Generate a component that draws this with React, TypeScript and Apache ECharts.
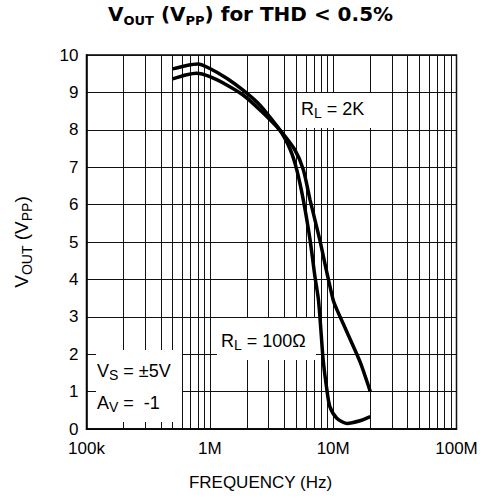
import React, { useEffect, useRef } from 'react';
import * as echarts from 'echarts';

const FONT = '"Liberation Sans", Arial, Helvetica, sans-serif';
const TITLE_FONT = '"DejaVu Sans", "Liberation Sans", Arial, sans-serif';

// Axis tick labels
const xTickLabels = ['100k', '1M', '10M', '100M'];
const yMin = 0;
const yMax = 10;

// Minor vertical grid lines (Hz)
const minorGridFreqs = [
  2e5, 3e5, 4e5, 5e5, 6e5, 7e5, 8e5, 9e5,
  2e6, 3e6, 4e6, 5e6, 6e6, 7e6, 8e6, 9e6,
  2e7, 3e7, 4e7, 5e7, 6e7, 7e7, 8e7, 9e7,
];

// R_L = 2K curve
const freq2K = [5e5, 6.5e5, 8e5, 1e6, 1.37e6, 1.86e6, 2.55e6, 3.7e6, 4.9e6, 5.73e6, 6.5e6, 7.8e6, 8.8e6, 1e7, 1.07e7, 1.29e7, 1.65e7, 2e7];
const vout2K = [9.63, 9.72, 9.76, 9.64, 9.38, 9.06, 8.66, 8.0, 7.46, 6.93, 6.12, 5.05, 4.25, 3.45, 3.2, 2.6, 1.8, 1.0];

// R_L = 100 ohm curve
const freq100 = [5e5, 6.5e5, 7.8e5, 1e6, 1.37e6, 1.86e6, 2.55e6, 3.7e6, 4.5e6, 5.07e6, 5.73e6, 6.5e6, 7.1e6, 7.6e6, 7.95e6, 8.3e6, 8.9e6, 9.4e6, 1.07e7, 1.29e7, 1.65e7, 2e7];
const vout100 = [9.36, 9.47, 9.51, 9.42, 9.2, 8.93, 8.53, 7.98, 7.46, 6.93, 6.12, 5.05, 4.1, 3.45, 2.65, 1.84, 1.04, 0.6, 0.29, 0.15, 0.22, 0.33];

const richMain = { fontSize: 18, fontFamily: FONT, fill: '#000', color: '#000', lineHeight: 22, verticalAlign: 'middle' };
const richSub = { fontSize: 14, fontFamily: FONT, fill: '#000', color: '#000', lineHeight: 10, verticalAlign: 'bottom' };
const nameMain = { fontSize: 19, fontFamily: FONT, color: '#000', lineHeight: 24, verticalAlign: 'middle' };
const nameSub = { fontSize: 14, fontFamily: FONT, color: '#000', lineHeight: 11, verticalAlign: 'bottom' };

export default function App() {
  const ref = useRef<HTMLDivElement>(null);
  useEffect(() => {
    if (!ref.current) return;
    const chart = echarts.init(ref.current, undefined, { renderer: 'svg' });
    const option = {
      animation: false,
      backgroundColor: '#fff',
      title: {
        text: '{b|V}{bs|OUT}{b| (V}{bs|PP}{b|) for THD < 0.5%}',
        left: 108,
        top: 0,
        padding: [0, 0, 0, 0],
        textStyle: {
          rich: {
            b: { fontSize: 20, fontWeight: 'bold', fontFamily: TITLE_FONT, color: '#000', lineHeight: 27, verticalAlign: 'middle' },
            bs: { fontSize: 13, fontWeight: 'bold', fontFamily: TITLE_FONT, color: '#000', lineHeight: 12, verticalAlign: 'bottom' },
          },
        },
      },
      grid: {
        left: 86.5,
        top: 55,
        right: 24.5,
        bottom: 75,
        show: true,
        borderColor: '#000',
        borderWidth: 1.5,
        backgroundColor: '#fff',
      },
      xAxis: {
        type: 'log',
        logBase: 10,
        min: 1e5,
        max: 1e8,
        name: 'FREQUENCY (Hz)',
        nameLocation: 'middle',
        nameGap: 45,
        nameTextStyle: { fontSize: 17, fontFamily: FONT, color: '#000', padding: [0, 22, 0, 0] },
        axisLine: { show: true, lineStyle: { color: '#000', width: 1.5 } },
        axisTick: { show: false },
        axisLabel: {
          fontSize: 17,
          fontFamily: FONT,
          color: '#000',
          margin: 11,
          formatter: (v: number) => xTickLabels[Math.round(Math.log10(v)) - 5] ?? '',
        },
        splitLine: { show: true, lineStyle: { color: '#111', width: 1 } },
      },
      yAxis: {
        type: 'value',
        min: yMin,
        max: yMax,
        interval: 1,
        name: '{m|V}{s|OUT}{m| (V}{s|PP}{m|)}',
        nameLocation: 'middle',
        nameRotate: 90,
        nameGap: 53,
        nameTextStyle: { rich: { m: nameMain, s: nameSub } },
        axisLine: { show: true, lineStyle: { color: '#000', width: 1.5 } },
        axisTick: { show: false },
        axisLabel: { fontSize: 17, fontFamily: FONT, color: '#000', margin: 8 },
        splitLine: { show: true, lineStyle: { color: '#111', width: 1 } },
      },
      series: [
        {
          name: 'RL = 2K',
          type: 'line',
          z: 4,
          smooth: 0.25,
          showSymbol: false,
          symbol: 'none',
          lineStyle: { color: '#000', width: 3.5 },
          data: freq2K.map((f, i) => [f, vout2K[i]]),
        },
        {
          name: 'RL = 100Ω',
          type: 'line',
          z: 4,
          smooth: 0.25,
          showSymbol: false,
          symbol: 'none',
          lineStyle: { color: '#000', width: 3.5 },
          data: freq100.map((f, i) => [f, vout100[i]]),
          markLine: {
            z: 1,
            silent: true,
            symbol: ['none', 'none'],
            label: { show: false },
            emphasis: { disabled: true },
            lineStyle: { color: '#111', width: 1, type: 'solid' },
            data: minorGridFreqs.map((f) => ({ xAxis: f })),
          },
        },
      ],
      graphic: [
        { type: 'rect', z: 3, shape: { x: 297, y: 93, width: 74, height: 35 }, style: { fill: '#fff' } },
        {
          type: 'text', z: 5, x: 301, y: 98,
          style: { text: '{m|R}{s|L}{m| = 2K}', rich: { m: richMain, s: richSub } },
        },
        { type: 'rect', z: 3, shape: { x: 217, y: 318, width: 99, height: 42 }, style: { fill: '#fff' } },
        {
          type: 'text', z: 5, x: 221, y: 330,
          style: { text: '{m|R}{s|L}{m| = 100Ω}', rich: { m: richMain, s: richSub } },
        },
        { type: 'rect', z: 3, shape: { x: 96, y: 350, width: 86, height: 72 }, style: { fill: '#fff' } },
        {
          type: 'text', z: 5, x: 97, y: 360,
          style: { text: '{m|V}{s|S}{m| = ±5V}', rich: { m: richMain, s: richSub } },
        },
        {
          type: 'text', z: 5, x: 97, y: 392,
          style: { text: '{m|A}{s|V}{m| =  -1}', rich: { m: richMain, s: richSub } },
        },
      ],
    };
    chart.setOption(option as any);
    return () => chart.dispose();
  }, []);
  return (
    <div
      ref={ref}
      style={{ position: 'fixed', left: 0, top: 0, width: 481, height: 504, background: '#fff' }}
    />
  );
}
